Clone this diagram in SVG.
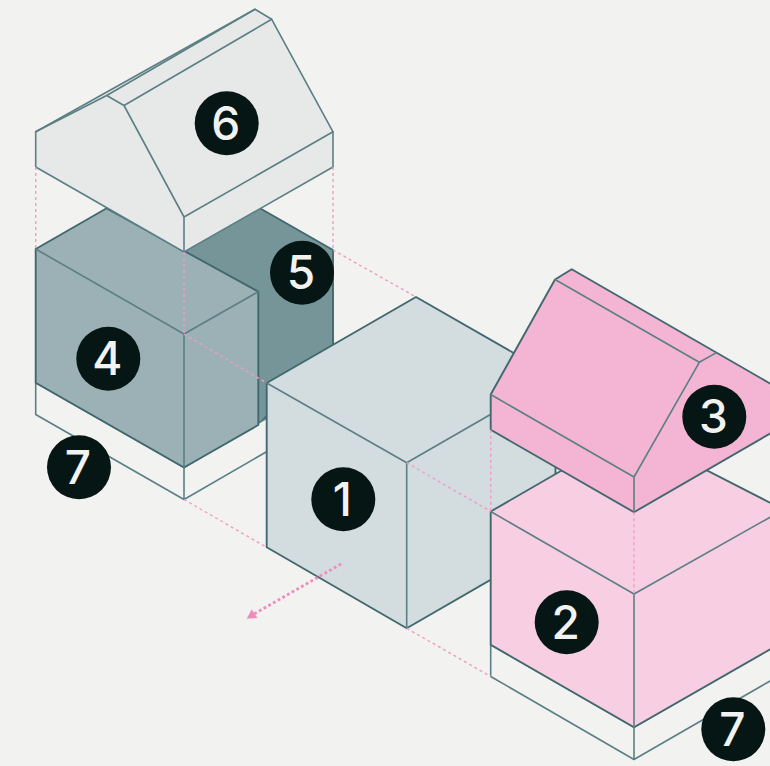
<svg xmlns="http://www.w3.org/2000/svg" width="770" height="766" viewBox="0 0 770 766">
<style>
.e{stroke:#42686f;stroke-width:1.9;stroke-linejoin:round;stroke-linecap:round}
.t{stroke:#5b7f84;stroke-width:1.6;fill:none;stroke-linejoin:round;stroke-linecap:round}
.d{stroke:#f09cc4;stroke-width:1.4;stroke-dasharray:3 3;fill:none}
.c{fill:#051614}
.n{font-family:Inter,"Liberation Sans",sans-serif;font-size:46px;font-weight:500;fill:#f2f2f0;text-anchor:middle}
.b{fill:#f2f2f0}
</style>
<rect width="770" height="766" fill="#f2f2f0"/>
<g id="node-5">
<path class="e" fill="#769598" d="M106.7 208.3L260 208.3L333 250L333 346L258.3 425L184 334Z"/>
</g>
<g id="node-7-left">
<path class="b t" d="M35.7 382.8L35.7 414.5L184 499.5L184 467.5L35.7 382.8ZM184 499.5L267 451.5L267 418L184 467.5"/>
</g>
<g id="node-4">
<path class="e" fill="#9bb1b5" d="M35.7 249L106.7 208.3L258.3 291.7L258.3 425L184 467.5L35.7 382.8Z"/>
<path class="t" d="M35.7 249L184 334L258.3 291.7M184 334L184 467.5"/>
</g>
<g id="node-6">
<path class="t" style="fill:#e7e9e8" d="M35.7 131.8L255 9.3L271.7 19.3L333 131.8L333 167L184 252L35.7 167Z"/>
<path class="t" d="M35.7 131.8L106.7 95.5L124 105.5L184 217L184 252M106.7 95.5L255 9.3M124 105.5L271.7 19.3M184 217L333 131.8"/>
</g>
<g id="node-1">
<path class="e" fill="#d3dcdf" d="M266.7 383L416 297L555.5 377L555.5 542.3L406.7 628.3L266.7 547.3Z"/>
<path class="t" d="M266.7 383L406.7 462.7L555.5 377M406.7 462.7L406.7 628.3"/>
</g>
<g id="node-7-right">
<path class="b t" d="M490.7 644.8L490.7 676.5L634 759.5L634 727.2ZM634 759.5L790 669.5L790 637.5L634 727.2"/>
</g>
<g id="node-2">
<path class="e" fill="#f8cfe2" d="M490.7 511.5L630 431L790 513L790 638L634 727.2L490.7 644.8Z"/>
<path class="t" d="M490.7 511.5L634 594L790 506M634 594L634 727.2"/>
</g>
<g id="node-3">
<path class="e" fill="#f4b5d4" d="M490.7 394.5L555 279.5L571.7 269.2L790 395L790 422L634 512.2L490.7 429.8Z"/>
<path class="t" d="M490.7 394.5L634 477L699.3 362.3L555 279.5M699.3 362.3L716 352.9M634 477L634 512.2"/>
</g>
<g id="connectors">
<path class="d" d="M35.7 167L35.7 249M333 167L333 250M184 252L184 334M333 250L416 297M184 334L266.7 383M184 499.5L266.7 547.3M406.7 462.7L490.7 511.5M406.7 628.3L490.7 676.5M490.7 429.8L490.7 511.5M634 512.2L634 594"/>
<path d="M341 564L254 614" fill="none" stroke="#f08cbc" stroke-width="2.8" stroke-dasharray="2.8 2.6"/>
<path d="M251.7 609.3L246.7 618.7L257.5 618Z" fill="#f08cbc"/>
</g>
<g id="label-6"><circle class="c" cx="226.7" cy="123.3" r="32"/><text class="n" x="225.7" y="140">6</text></g>
<g id="label-5"><circle class="c" cx="302" cy="272.7" r="32"/><text class="n" x="301" y="289.3">5</text></g>
<g id="label-4"><circle class="c" cx="108.3" cy="358.7" r="32"/><text class="n" x="107.3" y="375.3">4</text></g>
<g id="label-7a"><circle class="c" cx="79" cy="467.3" r="32"/><text class="n" x="78" y="484">7</text></g>
<g id="label-1"><circle class="c" cx="343.3" cy="499.3" r="32"/><text class="n" x="342.3" y="516">1</text></g>
<g id="label-3"><circle class="c" cx="714.3" cy="416.7" r="32"/><text class="n" x="713.3" y="433.3">3</text></g>
<g id="label-2"><circle class="c" cx="566.7" cy="622.3" r="32"/><text class="n" x="565.7" y="639">2</text></g>
<g id="label-7b"><circle class="c" cx="733.3" cy="729.3" r="32"/><text class="n" x="732.3" y="746">7</text></g>
</svg>
